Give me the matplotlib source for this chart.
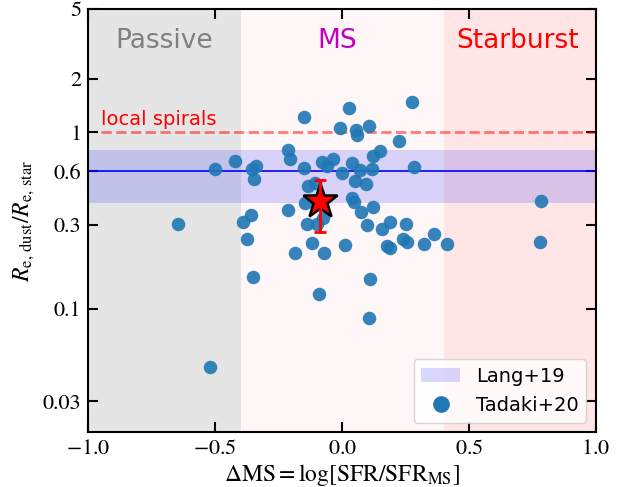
import numpy as np
import matplotlib
matplotlib.use('Agg')
from matplotlib import pyplot as plt
from matplotlib.patches import Patch

plt.rcParams['mathtext.fontset'] = 'stix'

# Tadaki+20 sample
tadaki_dms = [-0.648, -0.521, -0.501, -0.421, -0.341, -0.355, -0.346, -0.359, -0.39, -0.376,
              -0.353, -0.215, -0.205, -0.151, -0.152, -0.213, -0.148, -0.134, -0.107, -0.081,
              -0.061, -0.035, -0.009, 0.025, 0.053, 0.059, 0.106, 0.276, 0.223, 0.151,
              0.122, 0.039, 0.07, 0.118, 0.282, -0.002, 0.05, 0.092, 0.037, 0.046,
              0.076, 0.122, -0.14, -0.101, -0.12, -0.186, -0.072, -0.09, 0.011, 0.096,
              0.155, 0.188, 0.253, 0.175, 0.19, 0.24, 0.256, 0.322, 0.362, 0.415,
              0.109, 0.105, 0.782, 0.781, -0.075]
tadaki_ratio = [0.304, 0.0466, 0.622, 0.684, 0.647, 0.62, 0.546, 0.339, 0.309, 0.25,
                0.152, 0.797, 0.706, 1.22, 0.628, 0.362, 0.398, 0.494, 0.516, 0.675,
                0.647, 0.706, 1.06, 1.37, 1.03, 0.968, 1.09, 1.49, 0.887, 0.786,
                0.73, 0.67, 0.614, 0.622, 0.636, 0.588, 0.527, 0.51, 0.425, 0.405,
                0.352, 0.378, 0.303, 0.303, 0.237, 0.206, 0.206, 0.121, 0.23, 0.30,
                0.285, 0.309, 0.304, 0.226, 0.22, 0.25, 0.24, 0.233, 0.267, 0.233,
                0.147, 0.089, 0.41, 0.24, 0.327]

# this work
star_dms = -0.088
star_ratio = 0.41
star_err_lo = 0.137
star_err_hi = 0.125

# Lang+19 band
lang_mid = 0.6
lang_lo = 0.4
lang_hi = 0.79

local_spirals = 1.0

# regions
passive_edge = -0.4
starburst_edge = 0.4

xticks = [-1.0, -0.5, 0.0, 0.5, 1.0]
yticks = [0.03, 0.1, 0.3, 0.6, 1, 2, 5]
ytick_labels = ['0.03', '0.1', '0.3', '0.6', '1', '2', '5']

fig = plt.figure(figsize=(6.31, 4.87), dpi=100)
ax = fig.add_subplot(111)
fig.subplots_adjust(left=0.14, right=0.9445, top=0.982, bottom=0.1123)

ax.axvspan(-1, passive_edge, color='gray', alpha=0.2, lw=0)
ax.axvspan(passive_edge, starburst_edge, color='red', alpha=0.03, lw=0)
ax.axvspan(starburst_edge, 1, color='red', alpha=0.1, lw=0)

ax.axhspan(lang_lo, lang_hi, color='blue', alpha=0.15, lw=0)
ax.axhline(lang_mid, color='blue', lw=1.2)

ax.plot([-0.95, 1.0], [local_spirals, local_spirals], color='red', ls='--', lw=2, alpha=0.5)
ax.text(-0.95, 1.1, 'local spirals', color='red', fontsize=14)

ax.scatter(tadaki_dms, tadaki_ratio, s=95, color='#1f77b4', alpha=0.9, lw=0, zorder=3)

ax.plot(star_dms, star_ratio, marker='*', ms=26, mfc='red', mec='k', mew=1.8, zorder=5)
ax.errorbar(star_dms, star_ratio, yerr=[[star_err_lo], [star_err_hi]], fmt='none',
            ecolor='red', elinewidth=2, capsize=4.5, capthick=2, zorder=6)

ax.text(-0.7, 3.3, 'Passive', color='gray', fontsize=19, ha='center', va='center')
ax.text(-0.02, 3.3, 'MS', color='m', fontsize=19, ha='center', va='center')
ax.text(0.69, 3.3, 'Starburst', color='red', fontsize=19, ha='center', va='center')

ax.set_yscale('log')
ax.set_xlim(-1, 1)
ax.set_ylim(0.02, 5)
ax.set_xticks(xticks)
ax.set_xticklabels(['$-1.0$', '$-0.5$', '$0.0$', '$0.5$', '$1.0$'])
ax.set_yticks(yticks)
ax.set_yticklabels(ytick_labels)
ax.yaxis.set_minor_locator(matplotlib.ticker.NullLocator())
for lab in ax.get_xticklabels() + ax.get_yticklabels():
    lab.set_fontfamily('STIXGeneral')
ax.tick_params(which='major', direction='in', length=7, width=1.5, top=True, right=True,
               labelsize=16, pad=5)
for sp in ax.spines.values():
    sp.set_linewidth(1.5)

ax.set_xlabel(r'$\Delta{\rm MS} = \log[{\rm SFR/SFR_{MS}}]$', fontsize=17, labelpad=2)
ax.set_ylabel(r'$R_{\rm e,\,dust}/R_{\rm e,\,star}$', fontsize=17)

handles = [Patch(facecolor='blue', alpha=0.15, lw=0),
           plt.Line2D([], [], ls='none', marker='o', ms=11, color='#1f77b4')]
ax.legend(handles, ['Lang+19', 'Tadaki+20'], loc='lower right', fontsize=14)

plt.savefig('out.png')
